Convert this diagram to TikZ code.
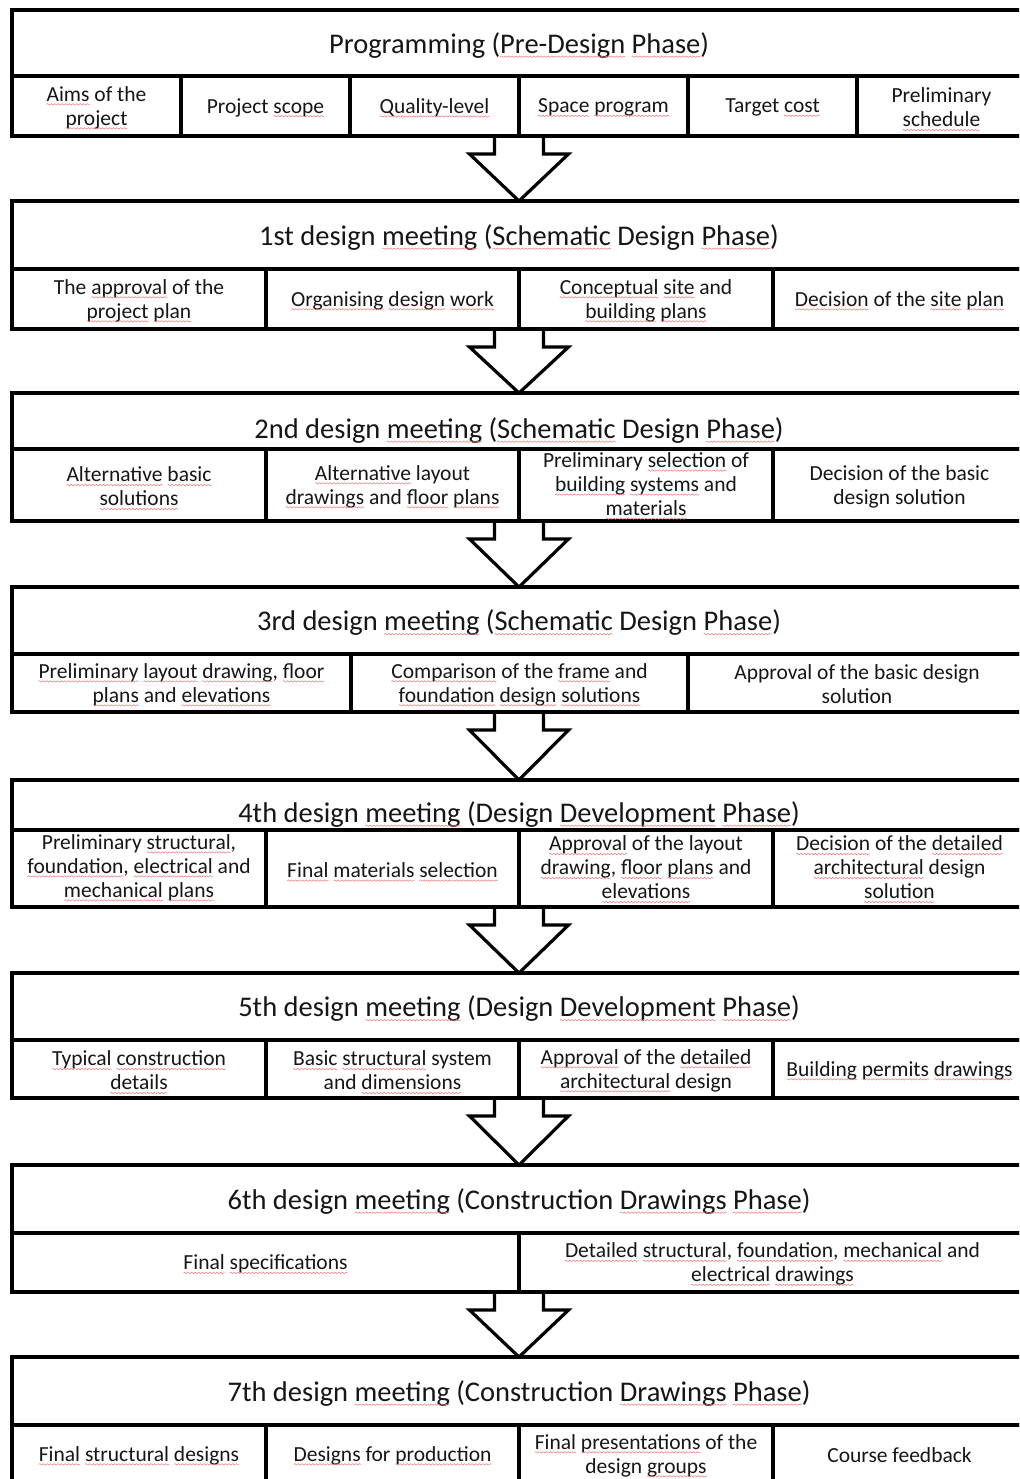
\documentclass[tikz,border=0pt]{standalone}
\usepackage{fontspec}
\setmainfont{Carlito}
\usetikzlibrary{calc,decorations.pathmorphing}

\definecolor{sqred}{RGB}{236,118,118}
\definecolor{ink}{RGB}{22,22,22}

% red wavy proofing underline under one word
\newcommand\sq[1]{\tikz[baseline=0pt,x=1pt,y=1pt]{%
  \node[rectangle,draw=none,inner sep=0pt,outer sep=0pt,minimum width=0pt,minimum height=0pt,
        anchor=base west] (sqw) at (0,0) {#1};%
  \draw[overlay,sqred,line width=0.5pt,decorate,
        decoration={snake,amplitude=0.7pt,segment length=3.6pt}]
     ([yshift=-3.2pt]sqw.base west) -- ([yshift=-3.2pt]sqw.base east);}}

\newcommand\cellfont{\fontsize{21.5}{24}\selectfont}
\newcommand\headfont{\fontsize{28.5}{34}\selectfont}

\tikzset{
  frame/.style={rectangle, draw=black, line width=3.6pt, inner sep=0pt, outer sep=0pt},
  textbase/.style={inner sep=0pt, outer sep=0pt, align=center, text=ink},
  headtext/.style={textbase, font=\headfont},
  celltext/.style={textbase, font=\cellfont},
  arrowline/.style={draw=black, line width=3.2pt, line join=miter},
}

% \cell[text drop]{name}{x left}{x right}{y top}{y bottom}{text}
\newcommand\cell[6][1.5]{\node[frame, minimum width={#4-#3}, minimum height={#6-#5}]
  (#2) at ({(#3+#4)/2},{(#5+#6)/2}) {};
  \node[celltext] (#2-text) at ([yshift={-(#1)}]#2.center)}
% \head{name}{y top}{y bottom}{text drop}{text}
\newcommand\head[5]{\node[frame, minimum width=1014, minimum height={#3-#2}]
  (#1) at (519,{(#2+#3)/2}) {};
  \node[headtext] (#1-text) at ([yshift={-2.5-#4}]#1.center) {#5};}
% hollow block arrow from a point on a lower edge down to a tip
\newcommand\flowarrow[2]{\draw[arrowline] ($(#1)+(-24.5,0)$) -- ++(0,18) -- ++(-25,0)
  -- (#2) -- ($(#1)+(49.5,18)$) -- ++(-25,0) -- ++(0,-18);}

\begin{document}
\begin{tikzpicture}[x=1pt,y=-1pt]
\useasboundingbox (0,0) rectangle (1019,1479);
\clip (0,0) rectangle (1019,1479);
\fill[white] (0,0) rectangle (1019,1479);

% Programming
\head{t0}{10}{76}{0}{Programming (\sq{Pre-Design} \sq{Phase})}
\cell{c0-1}{12}{181}{76}{136}{\sq{Aims} of the\\\sq{project}};
\cell{c0-2}{181}{350}{76}{136}{Project \sq{scope}};
\cell{c0-3}{350}{519}{76}{136}{\sq{Quality-level}};
\cell{c0-4}{519}{688}{76}{136}{\sq{Space} \sq{program}};
\cell{c0-5}{688}{857}{76}{136}{Target \sq{cost}};
\cell{c0-6}{857}{1026}{76}{136}{Preliminary\\\sq{schedule}};

% 1st meeting
\head{t1}{201}{269}{0}{1st design \sq{meeting} (\sq{Schematic} Design \sq{Phase})}
\cell{c1-1}{12}{266}{269}{329}{The \sq{approval} of the\\\sq{project} \sq{plan}};
\cell{c1-2}{266}{519}{269}{329}{\sq{Organising} \sq{design} \sq{work}};
\cell{c1-3}{519}{773}{269}{329}{\sq{Conceptual} \sq{site} and\\\sq{building} \sq{plans}};
\cell{c1-4}{773}{1026}{269}{329}{\sq{Decision} of the \sq{site} \sq{plan}};

% 2nd meeting
\head{t2}{393}{449}{7}{2nd design \sq{meeting} (\sq{Schematic} Design \sq{Phase})}
\cell{c2-1}{12}{266}{449}{521}{\sq{Alternative} \sq{basic}\\\sq{solutions}};
\cell{c2-2}{266}{519}{449}{521}{\sq{Alternative} layout\\\sq{drawings} and \sq{floor} \sq{plans}};
\cell[-1]{c2-3}{519}{773}{449}{521}{Preliminary \sq{selection} of\\\sq{building} \sq{systems} and\\\sq{materials}};
\cell{c2-4}{773}{1026}{449}{521}{Decision of the basic\\design solution};

% 3rd meeting
\head{t3}{587}{654}{0}{3rd design \sq{meeting} (\sq{Schematic} Design \sq{Phase})}
\cell{c3-1}{12}{351}{654}{712}{\sq{Preliminary} \sq{layout} \sq{drawing}, \sq{floor}\\\sq{plans} and \sq{elevations}};
\cell{c3-2}{351}{688}{654}{712}{\sq{Comparison} of the \sq{frame} and\\\sq{foundation} \sq{design} \sq{solutions}};
\cell{c3-3}{688}{1026}{654}{712}{Approval of the basic design\\solution};

% 4th meeting
\head{t4}{780}{830}{7}{4th design \sq{meeting} (Design \sq{Development} \sq{Phase})}
\cell[-1]{c4-1}{12}{266}{830}{907}{Preliminary \sq{structural},\\\sq{foundation}, \sq{electrical} and\\\sq{mechanical} \sq{plans}};
\cell{c4-2}{266}{519}{830}{907}{\sq{Final} \sq{materials} \sq{selection}};
\cell[-1]{c4-3}{519}{773}{830}{907}{\sq{Approval} of the layout\\\sq{drawing}, \sq{floor} \sq{plans} and\\\sq{elevations}};
\cell[-1]{c4-4}{773}{1026}{830}{907}{\sq{Decision} of the \sq{detailed}\\\sq{architectural} design\\\sq{solution}};

% 5th meeting
\head{t5}{973}{1040}{0}{5th design \sq{meeting} (Design \sq{Development} \sq{Phase})}
\cell{c5-1}{12}{266}{1040}{1098}{\sq{Typical} \sq{construction}\\\sq{details}};
\cell{c5-2}{266}{519}{1040}{1098}{\sq{Basic} \sq{structural} system\\and \sq{dimensions}};
\cell{c5-3}{519}{773}{1040}{1098}{\sq{Approval} of the \sq{detailed}\\\sq{architectural} design};
\cell{c5-4}{773}{1026}{1040}{1098}{\sq{Building} \sq{permits} \sq{drawings}};

% 6th meeting
\head{t6}{1165}{1233}{0}{6th design \sq{meeting} (Construction \sq{Drawings} \sq{Phase})}
\cell{c6-1}{12}{519}{1233}{1292}{\sq{Final} \sq{specifications}};
\cell{c6-2}{519}{1026}{1233}{1292}{\sq{Detailed} \sq{structural}, \sq{foundation}, \sq{mechanical} and\\\sq{electrical} \sq{drawings}};

% 7th meeting
\head{t7}{1357}{1425}{0}{7th design \sq{meeting} (Construction \sq{Drawings} \sq{Phase})}
\cell{c7-1}{12}{266}{1425}{1483}{\sq{Final} \sq{structural} \sq{designs}};
\cell{c7-2}{266}{519}{1425}{1483}{\sq{Designs} for \sq{production}};
\cell{c7-3}{519}{773}{1425}{1483}{\sq{Final} \sq{presentations} of the\\design \sq{groups}};
\cell{c7-4}{773}{1026}{1425}{1483}{Course feedback};

% block arrows between the stages
\flowarrow{t0.center |- c0-1.south}{t1.north}
\flowarrow{t1.center |- c1-1.south}{t2.north}
\flowarrow{t2.center |- c2-1.south}{t3.north}
\flowarrow{t3.center |- c3-1.south}{t4.north}
\flowarrow{t4.center |- c4-1.south}{t5.north}
\flowarrow{t5.center |- c5-1.south}{t6.north}
\flowarrow{t6.center |- c6-1.south}{t7.north}
\end{tikzpicture}
\end{document}
